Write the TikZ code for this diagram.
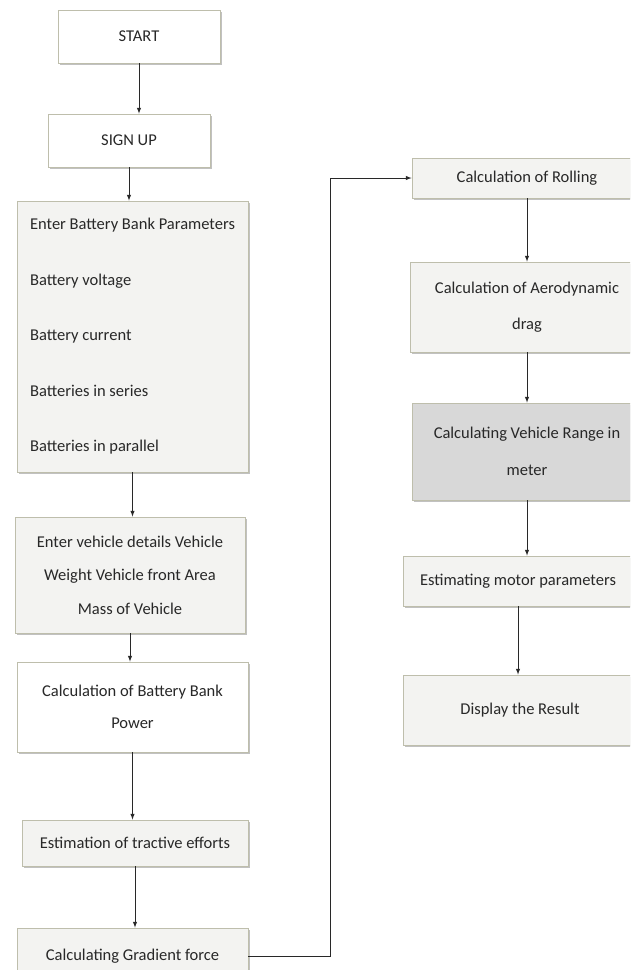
\documentclass[tikz,border=0pt]{standalone}
\usepackage{fontspec}
\setmainfont{Carlito}
\usetikzlibrary{shadows}

\definecolor{boxline}{RGB}{190,190,172}
\definecolor{boxfill}{RGB}{243,243,241}
\definecolor{rangefill}{RGB}{216,216,216}
\definecolor{txt}{RGB}{40,40,40}
\definecolor{wire}{RGB}{40,40,40}

\tikzset{
  flowbox/.style={draw=boxline,fill=boxfill,line width=0.8pt,text=txt,align=center,inner sep=0pt,
    drop shadow={shadow xshift=1.5pt,shadow yshift=-2pt,fill=black!40,opacity=0.6},
    font=\fontsize{16.5}{34}\selectfont},
  whitebox/.style={flowbox,fill=white},
  flowarrow/.style={-latex,draw=wire,line width=1pt}
}

\begin{document}
\begin{tikzpicture}[x=1pt,y=-1pt]
  \useasboundingbox[fill=white] (0,0) rectangle (630,970);
  \clip (0,0) rectangle (630,970);

  % left column
  \node[whitebox,minimum width=162pt,minimum height=53pt] (start) at (139,36.5) {START};
  \node[whitebox,minimum width=162pt,minimum height=53pt] (signup) at (129,140.5) {SIGN UP};
  \node[flowbox,align=left,minimum width=231pt,minimum height=271pt,font=\fontsize{16.5}{55.5}\selectfont]
    (batt) at (132.5,336.5) {Enter Battery Bank Parameters\\Battery voltage\\Battery current\\Batteries in series\\Batteries in parallel};
  \node[flowbox,minimum width=230pt,minimum height=116pt,font=\fontsize{16.5}{33.5}\selectfont]
    (vehicle) at (130,575) {Enter vehicle details Vehicle\\Weight Vehicle front Area\\Mass of Vehicle};
  \node[whitebox,minimum width=231pt,minimum height=90pt,font=\fontsize{16.5}{32}\selectfont]
    (power) at (132.5,707) {Calculation of Battery Bank\\Power};
  \node[flowbox,minimum width=226pt,minimum height=46pt] (tractive) at (135,843) {Estimation of tractive efforts};
  \node[flowbox,minimum width=231pt,minimum height=56pt] (grad) at (132.5,956) {Calculating Gradient force};

  % right column
  \node[flowbox,minimum width=230pt,minimum height=40pt] (roll) at (527,178) {Calculation of Rolling};
  \node[flowbox,minimum width=234pt,minimum height=90pt,font=\fontsize{16.5}{36}\selectfont]
    (aero) at (527,307) {Calculation of Aerodynamic\\drag};
  \node[flowbox,fill=rangefill,minimum width=230pt,minimum height=97pt,font=\fontsize{16.5}{37}\selectfont]
    (range) at (527,451.5) {Calculating Vehicle Range in\\meter};
  \node[flowbox,minimum width=230pt,minimum height=50pt] (motor) at (518,581) {Estimating motor parameters};
  \node[flowbox,minimum width=234pt,minimum height=70pt] (result) at (520,710) {Display the Result};

  \foreach \a/\b in {start/signup,signup/batt,batt/vehicle,vehicle/power,power/tractive,tractive/grad,
                     roll/aero,aero/range,range/motor,motor/result}
    \draw[flowarrow] (\a.south) -- (\a.south |- \b.north);

  \draw[flowarrow] (grad.east) -- ([xshift=82pt]grad.east) |- (roll.west);
\end{tikzpicture}
\end{document}
